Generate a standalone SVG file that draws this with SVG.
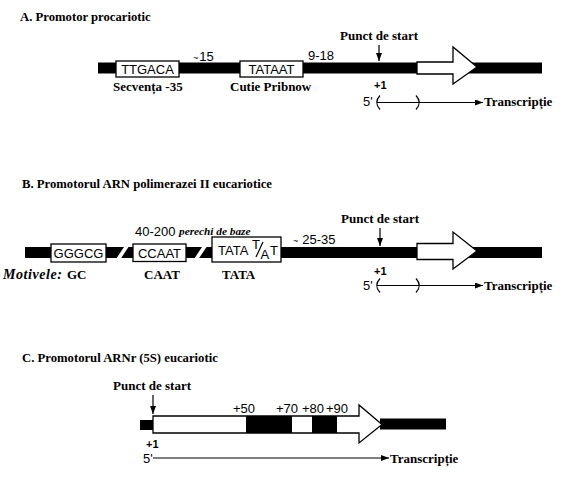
<svg xmlns="http://www.w3.org/2000/svg" width="563" height="477" viewBox="0 0 563 477">
<defs>
<marker id="ah" viewBox="0 0 8 6" refX="8" refY="3" markerWidth="8" markerHeight="6" markerUnits="userSpaceOnUse" orient="auto"><path d="M0,0 L8,3 L0,6 Z" fill="#000"/></marker>
<style>
.tt{font-family:"Liberation Serif",serif;font-weight:bold;font-size:12.7px;fill:#000}
.lb{font-family:"Liberation Serif",serif;font-weight:bold;font-size:13px;fill:#000}
.sn{font-family:"Liberation Sans",Arial,sans-serif;font-size:13px;fill:#000}
.sm{font-family:"Liberation Sans",Arial,sans-serif;font-size:11px;font-weight:bold;fill:#000}
.bar{fill:#000}
.box{fill:#fff;stroke:#000;stroke-width:1.3}
.arr{fill:#fff;stroke:#000;stroke-width:1.3}
.ln{stroke:#000;stroke-width:1.2;fill:none}
.ptr{stroke:#000;stroke-width:1.2;fill:none}
</style>
</defs>
<rect width="563" height="477" fill="#fff"/>

<!-- Section A -->
<g id="sectionA">
<text class="tt" x="20" y="21">A. Promotor procariotic</text>
<rect class="bar" x="98" y="62.5" width="444" height="11"/>
<g id="boxTTGACA"><rect class="box" x="116" y="61" width="63" height="16"/><text class="sn" x="147.5" y="74" text-anchor="middle">TTGACA</text></g>
<g id="boxTATAAT"><rect class="box" x="240" y="61" width="63" height="16"/><text class="sn" x="271.5" y="74" text-anchor="middle">TATAAT</text></g>
<text class="sn" x="193" y="61"><tspan font-size="9">~</tspan><tspan dx="1">15</tspan></text>
<text class="sn" x="308" y="60">9-18</text>
<text class="lb" x="113" y="91">Secvența -35</text>
<text class="lb" x="230" y="91">Cutie Pribnow</text>
<g id="startA"><text class="lb" x="340" y="39.5">Punct de start</text></g>
<polygon id="geneA" class="arr" points="417,62 453,62 453,47 477,67 453,84 453,74 417,74"/>
<text class="sm" x="374" y="89">+1</text>
<text class="sn" x="363" y="106">5'</text>
<text class="lb" x="484" y="106">Transcripție</text>
</g>

<!-- Section B -->
<g id="sectionB">
<text class="tt" x="22" y="188">B. Promotorul ARN polimerazei II eucariotice</text>
<rect class="bar" x="25" y="247" width="517" height="11"/>
<polygon fill="#fff" points="116,259 120.5,259 129.5,245.5 125,245.5"/>
<polygon fill="#fff" points="194,259 198.5,259 207.5,245.5 203,245.5"/>
<g id="boxGGGCG"><rect class="box" x="51" y="244" width="55" height="18"/><text class="sn" x="78.5" y="258" text-anchor="middle">GGGCG</text></g>
<g id="boxCCAAT"><rect class="box" x="133" y="244" width="53" height="17.5"/><text class="sn" x="159.5" y="257.5" text-anchor="middle">CCAAT</text></g>
<g id="boxTATA"><rect class="box" x="212" y="237" width="69" height="25"/>
<text class="sn" x="218" y="255">TATA</text>
<text class="sn" x="252" y="248.5" font-size="10.5">T</text>
<line x1="256" y1="257" x2="263" y2="242" stroke="#000" stroke-width="1.2"/>
<text class="sn" x="260.5" y="258.5" font-size="10.5">A</text>
<text class="sn" x="270" y="255">T</text></g>
<text class="sn" x="135" y="236">40-200</text>
<text x="179" y="235" style="font-family:'Liberation Serif',serif;font-weight:bold;font-style:italic;font-size:11.3px">perechi de baze</text>
<text class="sn" x="293" y="244"><tspan font-size="9">~</tspan><tspan dx="4">25-35</tspan></text>
<text x="3" y="279" textLength="59" style="font-family:'Liberation Serif',serif;font-weight:bold;font-style:italic;font-size:14px">Motivele:</text>
<text class="lb" x="67" y="279">GC</text>
<text class="lb" x="144" y="279">CAAT</text>
<text class="lb" x="222" y="279">TATA</text>
<g id="startB"><text class="lb" x="341" y="223">Punct de start</text></g>
<polygon id="geneB" class="arr" points="417,243.5 453,243.5 453,232 477,251 453,269 453,259.5 417,259.5"/>
<text class="sm" x="374" y="275">+1</text>
<text class="sn" x="363" y="290">5'</text>
<text class="lb" x="484" y="290">Transcripție</text>
</g>

<!-- Section C -->
<g id="sectionC">
<text class="tt" x="22" y="362">C. Promotorul ARNr (5S) eucariotic</text>
<rect class="bar" x="140" y="420" width="14" height="10"/>
<rect class="bar" x="380" y="418.5" width="66" height="11"/>
<g id="geneC">
<polygon class="arr" points="153,416 359,416 359,405 382,424.5 359,443 359,433 153,433"/>
<rect class="bar" x="246" y="416" width="46" height="17"/>
<rect class="bar" x="312" y="416" width="25" height="17"/>
</g>
<text class="sn" x="233" y="413">+50</text>
<text class="sn" x="276" y="413">+70</text>
<text class="sn" x="302" y="413">+80</text>
<text class="sn" x="326" y="413">+90</text>
<g id="startC"><text class="lb" x="113" y="390">Punct de start</text></g>
<text class="sm" x="146" y="448">+1</text>
<text class="sn" x="143" y="463">5'</text>
<text class="lb" x="390" y="463">Transcripție</text>
</g>

<!-- Connectors -->
<g id="connectors">
<line class="ptr" x1="379" y1="45" x2="379" y2="61" marker-end="url(#ah)"/>
<line class="ptr" x1="380" y1="228" x2="380" y2="246" marker-end="url(#ah)"/>
<line class="ptr" x1="153" y1="395" x2="153" y2="414" marker-end="url(#ah)"/>
<path class="ln" d="M380,95.5 Q373.5,102.5 380,109.5"/>
<path class="ln" d="M416,95.5 Q422.5,102.5 416,109.5"/>
<line class="ln" x1="377" y1="102.5" x2="483" y2="102.5" marker-end="url(#ah)"/>
<path class="ln" d="M380,278.5 Q373.5,285.5 380,292.5"/>
<path class="ln" d="M416,278.5 Q422.5,285.5 416,292.5"/>
<line class="ln" x1="377" y1="285.5" x2="483" y2="285.5" marker-end="url(#ah)"/>
<line class="ln" x1="153" y1="458" x2="389" y2="458" marker-end="url(#ah)"/>
</g>
</svg>
